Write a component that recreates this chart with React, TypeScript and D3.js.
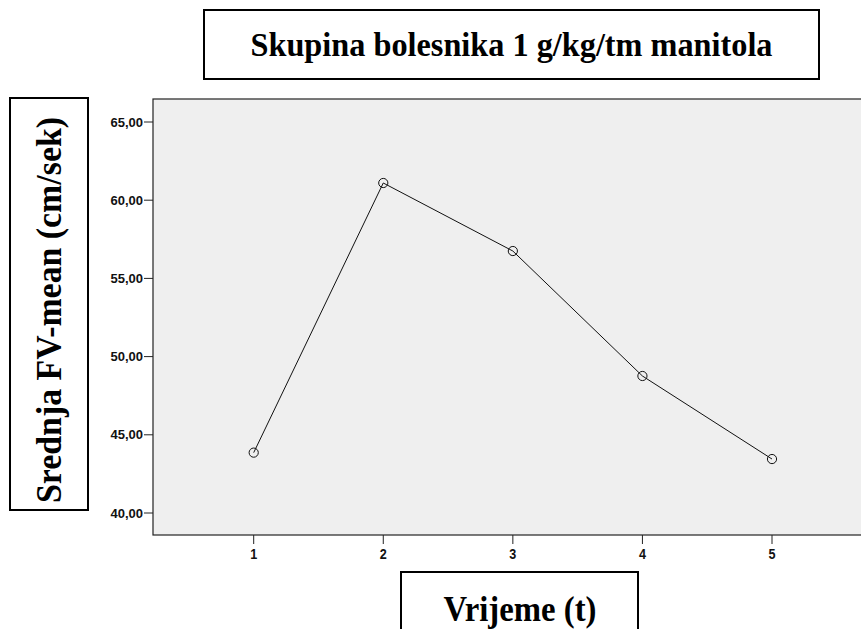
import React from "react";
import * as d3 from "d3";

const timePoints = [1, 2, 3, 4, 5];
const meanFV = [43.86, 61.1, 56.75, 48.76, 43.45];
const yTicks = [40, 45, 50, 55, 60, 65];
const titleText = "Skupina bolesnika 1 g/kg/tm manitola";
const yLabelText = "Srednja FV-mean (cm/sek)";
const xLabelText = "Vrijeme (t)";

const W = 861;
const H = 629;

export default function App() {
  const plotLeft = 153;
  const plotTop = 99;
  const plotBottom = 535;
  const x = d3.scaleLinear().domain([1, 5]).range([253.7, 772]);
  const y = d3.scaleLinear().domain([40, 65]).range([513, 122]);
  const xLeftVal = x.invert(plotLeft);
  const xRightPx = x(6 - xLeftVal);
  const line = d3
    .line<number>()
    .x((_, i) => x(timePoints[i]))
    .y((d) => y(d));
  const fmt = (v: number) => v.toFixed(2).replace(".", ",");
  const tickFont = "Arial, 'Liberation Sans', sans-serif";
  const serif = "'Times New Roman', 'Liberation Serif', serif";

  return (
    <svg
      width={W}
      height={H}
      style={{ position: "absolute", left: 0, top: 0, background: "#fff" }}
    >
      {/* plot area */}
      <rect
        x={plotLeft}
        y={plotTop}
        width={xRightPx - plotLeft}
        height={plotBottom - plotTop}
        fill="#efefef"
        stroke="#222"
        strokeWidth={1.2}
      />
      {/* y axis ticks */}
      {yTicks.map((t) => (
        <g key={t}>
          <line x1={plotLeft - 9} x2={plotLeft} y1={y(t)} y2={y(t)} stroke="#222" strokeWidth={1} />
          <text
            x={plotLeft - 10}
            y={y(t)}
            textAnchor="end"
            dominantBaseline="central"
            fontFamily={tickFont}
            fontWeight="bold"
            fontSize={13}
            fill="#111"
          >
            {fmt(t)}
          </text>
        </g>
      ))}
      {/* x axis ticks */}
      {timePoints.map((t) => (
        <g key={t}>
          <line x1={x(t)} x2={x(t)} y1={plotBottom} y2={plotBottom + 9} stroke="#222" strokeWidth={1} />
          <text
            transform={`translate(${x(t)},${plotBottom + 19}) scale(0.9,1)`}
            textAnchor="middle"
            dominantBaseline="central"
            fontFamily={tickFont}
            fontWeight="bold"
            fontSize={14}
            fill="#111"
          >
            {t}
          </text>
        </g>
      ))}
      {/* line */}
      <path d={line(meanFV) || ""} fill="none" stroke="#111" strokeWidth={1} />
      {meanFV.map((v, i) => (
        <circle key={i} cx={x(timePoints[i])} cy={y(v)} r={4.6} fill="none" stroke="#111" strokeWidth={1} />
      ))}
      {/* title box */}
      <rect x={204} y={10} width={615} height={69} fill="#fff" stroke="#000" strokeWidth={2} />
      <text
        x={511.5}
        y={56}
        textAnchor="middle"
        fontFamily={serif}
        fontWeight="bold"
        fontSize={34}
        textLength={522}
        lengthAdjust="spacingAndGlyphs"
        fill="#000"
      >
        {titleText}
      </text>
      {/* y label box */}
      <rect x={10} y={98} width={78} height={412} fill="#fff" stroke="#000" strokeWidth={2} />
      <text
        transform={`translate(61,310) rotate(-90)`}
        textAnchor="middle"
        fontFamily={serif}
        fontWeight="bold"
        fontSize={35}
        textLength={386}
        lengthAdjust="spacingAndGlyphs"
        fill="#000"
      >
        {yLabelText}
      </text>
      {/* x label box */}
      <rect x={401} y={572} width={237} height={80} fill="#fff" stroke="#000" strokeWidth={2} />
      <text
        x={520}
        y={621}
        textAnchor="middle"
        fontFamily={serif}
        fontWeight="bold"
        fontSize={36}
        textLength={153}
        lengthAdjust="spacingAndGlyphs"
        fill="#000"
      >
        {xLabelText}
      </text>
    </svg>
  );
}
